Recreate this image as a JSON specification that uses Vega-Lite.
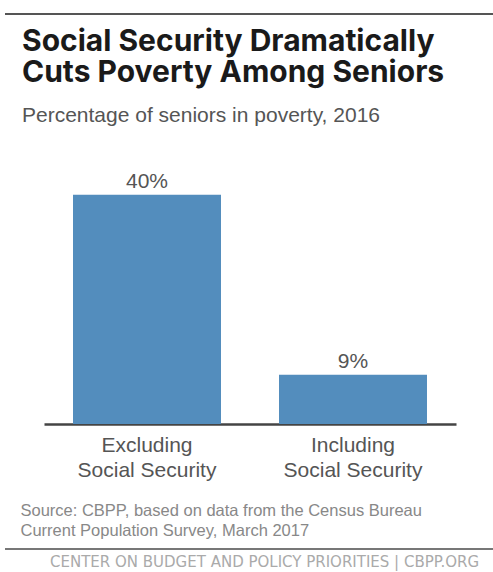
{
  "$schema": "https://vega.github.io/schema/vega-lite/v6.json",
  "width": 412,
  "height": 275,
  "autosize": "none",
  "padding": {"left": 44, "top": 149, "right": 37, "bottom": 148},
  "background": "#ffffff",
  "config": {"view": {"stroke": null}},
  "title": {
    "text": ["Social Security Dramatically", "Cuts Poverty Among Seniors"],
    "subtitle": "Percentage of seniors in poverty, 2016",
    "anchor": "start",
    "frame": "group",
    "dx": -22,
    "offset": -113,
    "font": "Inter",
    "fontSize": 30,
    "fontWeight": "bold",
    "color": "#1a1a1a",
    "lineHeight": 31,
    "subtitleFont": "Liberation Sans",
    "subtitleFontSize": 21,
    "subtitleColor": "#555555",
    "subtitlePadding": 17
  },
  "data": {
    "values": [
      {"category": "Excluding Social Security", "share": 0.40},
      {"category": "Including Social Security", "share": 0.086}
    ]
  },
  "layer": [
    {
      "mark": {"type": "bar", "color": "#538dbd"},
      "encoding": {
        "x": {
          "field": "category",
          "type": "nominal",
          "sort": null,
          "scale": {"paddingInner": 0.2816, "paddingOuter": 0.1408},
          "axis": {
            "title": ["Source: CBPP, based on data from the Census Bureau", "Current Population Survey, March 2017"],
            "labelExpr": "[split(datum.label, ' ')[0], 'Social Security']",
            "labelAngle": 0,
            "labelFont": "Liberation Sans",
            "labelFontSize": 21,
            "labelColor": "#555555",
            "labelPadding": 10,
            "labelLineHeight": 25,
            "ticks": false,
            "domainColor": "#444444",
            "domainWidth": 2.5,
            "titleFont": "Liberation Sans",
            "titleFontSize": 16.5,
            "titleFontWeight": "normal",
            "titleColor": "#888888",
            "titleAnchor": "start",
            "titleAlign": "left",
            "titleX": -24,
            "titleY": 91,
            "titleBaseline": "alphabetic",
            "titleLineHeight": 20
          }
        },
        "y": {
          "field": "share",
          "type": "quantitative",
          "scale": {"domain": [0, 0.48], "nice": false},
          "axis": null
        }
      }
    },
    {
      "mark": {"type": "text", "font": "Liberation Sans", "fontSize": 21, "color": "#555555", "baseline": "alphabetic", "dy": -7},
      "encoding": {
        "x": {"field": "category", "type": "nominal", "sort": null},
        "y": {"field": "share", "type": "quantitative"},
        "text": {"field": "share", "type": "quantitative", "format": ".0%"}
      }
    },
    {
      "data": {"values": [{"note": "CENTER ON BUDGET AND POLICY PRIORITIES | CBPP.ORG"}]},
      "layer": [
        {
          "mark": {"type": "rule", "color": "#555555", "strokeWidth": 2},
          "encoding": {"x": {"value": -39}, "x2": {"value": 449}, "y": {"value": -135}}
        },
        {
          "mark": {"type": "rule", "color": "#777777", "strokeWidth": 2},
          "encoding": {"x": {"value": -39}, "x2": {"value": 449}, "y": {"value": 400}}
        },
        {
          "mark": {"type": "text", "font": "DejaVu Sans", "fontSize": 15, "color": "#aaaaaa", "align": "left", "baseline": "alphabetic"},
          "encoding": {"x": {"value": 6}, "y": {"value": 418}, "text": {"field": "note"}}
        }
      ]
    }
  ]
}
